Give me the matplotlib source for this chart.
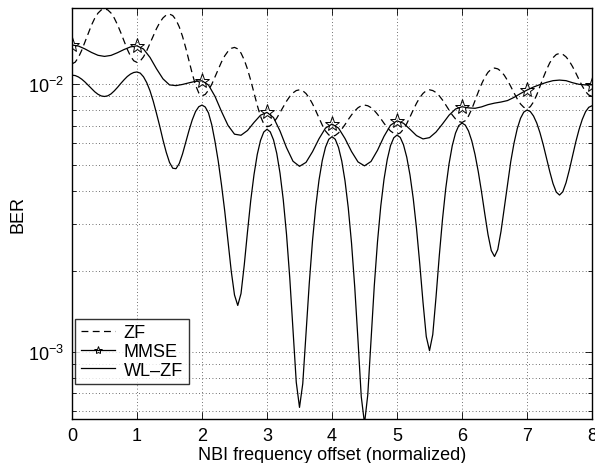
import numpy as np
import matplotlib
matplotlib.use('Agg')
import matplotlib.pyplot as plt
from matplotlib.ticker import FixedLocator, NullFormatter, LogFormatterSciNotation

# NBI frequency offset (normalized): ZF and WL-ZF read every 0.05, MMSE every 0.1
offset_fine = np.linspace(0, 8, 161)
offset_mmse = np.linspace(0, 8, 81)

ber_zf = [
    0.01190, 0.01208, 0.01259, 0.01338, 0.01439, 0.01550, 0.01661, 0.01762, 0.01841, 0.01892,
    0.01910, 0.01893, 0.01843, 0.01765, 0.01666, 0.01558, 0.01449, 0.01350, 0.01272, 0.01222,
    0.01205, 0.01220, 0.01264, 0.01333, 0.01420, 0.01516, 0.01611, 0.01698, 0.01767, 0.01811,
    0.01826, 0.01803, 0.01738, 0.01636, 0.01508, 0.01365, 0.01223, 0.01094, 0.00992, 0.00927,
    0.00904, 0.00915, 0.00949, 0.00998, 0.01065, 0.01138, 0.01210, 0.01275, 0.01326, 0.01360,
    0.01371, 0.01354, 0.01306, 0.01231, 0.01137, 0.01032, 0.00927, 0.00833, 0.00758, 0.00710,
    0.00693, 0.00699, 0.00718, 0.00746, 0.00783, 0.00823, 0.00863, 0.00899, 0.00927, 0.00946,
    0.00952, 0.00944, 0.00922, 0.00887, 0.00844, 0.00795, 0.00747, 0.00703, 0.00668, 0.00646,
    0.00638, 0.00643, 0.00657, 0.00679, 0.00706, 0.00737, 0.00767, 0.00794, 0.00816, 0.00830,
    0.00835, 0.00830, 0.00817, 0.00797, 0.00771, 0.00743, 0.00714, 0.00688, 0.00668, 0.00655,
    0.00650, 0.00657, 0.00679, 0.00712, 0.00754, 0.00801, 0.00848, 0.00890, 0.00923, 0.00945,
    0.00952, 0.00946, 0.00930, 0.00904, 0.00872, 0.00836, 0.00800, 0.00767, 0.00741, 0.00725,
    0.00719, 0.00730, 0.00760, 0.00807, 0.00867, 0.00934, 0.01000, 0.01060, 0.01107, 0.01137,
    0.01148, 0.01140, 0.01116, 0.01079, 0.01032, 0.00980, 0.00927, 0.00880, 0.00843, 0.00819,
    0.00811, 0.00823, 0.00858, 0.00912, 0.00981, 0.01057, 0.01132, 0.01201, 0.01255, 0.01290,
    0.01302, 0.01292, 0.01264, 0.01219, 0.01163, 0.01101, 0.01039, 0.00983, 0.00938, 0.00910,
    0.00900,
]

ber_mmse = [
    0.01400, 0.01387, 0.01353, 0.01313, 0.01281, 0.01269, 0.01280, 0.01310, 0.01346, 0.01377,
    0.01390, 0.01352, 0.01258, 0.01141, 0.01046, 0.00993, 0.00987, 0.00997, 0.01011, 0.01024,
    0.01029, 0.00992, 0.00900, 0.00790, 0.00701, 0.00650, 0.00644, 0.00671, 0.00719, 0.00765,
    0.00784, 0.00750, 0.00668, 0.00579, 0.00515, 0.00493, 0.00510, 0.00559, 0.00625, 0.00685,
    0.00709, 0.00685, 0.00626, 0.00560, 0.00512, 0.00495, 0.00514, 0.00566, 0.00638, 0.00702,
    0.00729, 0.00714, 0.00678, 0.00642, 0.00624, 0.00631, 0.00662, 0.00710, 0.00765, 0.00807,
    0.00823, 0.00815, 0.00812, 0.00822, 0.00838, 0.00849, 0.00857, 0.00868, 0.00892, 0.00922,
    0.00950, 0.00975, 0.00996, 0.01015, 0.01030, 0.01035, 0.01030, 0.01012, 0.00998, 0.00993,
    0.00994,
]

ber_wlzf = [
    0.01080, 0.01076, 0.01063, 0.01043, 0.01018, 0.00990, 0.00962, 0.00936, 0.00916, 0.00903,
    0.00899, 0.00904, 0.00919, 0.00943, 0.00972, 0.01005, 0.01037, 0.01067, 0.01090, 0.01105,
    0.01110, 0.01099, 0.01065, 0.01012, 0.00944, 0.00863, 0.00777, 0.00696, 0.00618, 0.00556,
    0.00510, 0.00485, 0.00483, 0.00505, 0.00548, 0.00606, 0.00671, 0.00735, 0.00789, 0.00823,
    0.00835, 0.00821, 0.00780, 0.00705, 0.00610, 0.00515, 0.00420, 0.00335, 0.00258, 0.00200,
    0.00163, 0.00149, 0.00165, 0.00211, 0.00281, 0.00368, 0.00459, 0.00546, 0.00616, 0.00662,
    0.00678, 0.00663, 0.00619, 0.00551, 0.00465, 0.00370, 0.00275, 0.00189, 0.00121, 0.00077,
    0.00062, 0.00076, 0.00117, 0.00180, 0.00260, 0.00349, 0.00438, 0.00518, 0.00581, 0.00622,
    0.00636, 0.00622, 0.00580, 0.00516, 0.00435, 0.00345, 0.00255, 0.00174, 0.00110, 0.00068,
    0.00054, 0.00069, 0.00110, 0.00176, 0.00258, 0.00350, 0.00441, 0.00523, 0.00589, 0.00630,
    0.00645, 0.00632, 0.00593, 0.00533, 0.00457, 0.00373, 0.00289, 0.00213, 0.00153, 0.00114,
    0.00101, 0.00116, 0.00160, 0.00228, 0.00313, 0.00408, 0.00503, 0.00589, 0.00656, 0.00700,
    0.00715, 0.00703, 0.00668, 0.00614, 0.00546, 0.00471, 0.00396, 0.00328, 0.00274, 0.00239,
    0.00227, 0.00241, 0.00282, 0.00345, 0.00425, 0.00514, 0.00602, 0.00682, 0.00745, 0.00786,
    0.00800, 0.00790, 0.00760, 0.00715, 0.00657, 0.00593, 0.00528, 0.00471, 0.00425, 0.00395,
    0.00385, 0.00396, 0.00428, 0.00477, 0.00539, 0.00608, 0.00676, 0.00738, 0.00788, 0.00819,
    0.00830,
]

series_labels = ['ZF', 'MMSE', 'WL\u2013ZF']
x_ticks = [0, 1, 2, 3, 4, 5, 6, 7, 8]

plt.rcParams['font.family'] = ['Liberation Sans', 'DejaVu Sans']
plt.rcParams['mathtext.fontset'] = 'custom'
plt.rcParams['mathtext.rm'] = 'Liberation Sans'
plt.rcParams['mathtext.it'] = 'Liberation Sans:italic'
plt.rcParams['mathtext.bf'] = 'Liberation Sans:bold'

fig = plt.figure(figsize=(5.95, 4.64), dpi=100)
ax = fig.add_axes([0.121, 0.0948, 0.874, 0.885])

ax.plot(offset_fine, ber_zf, color='k', lw=0.9, dashes=(5.5, 3.5), label=series_labels[0])
ax.plot(offset_mmse, ber_mmse, color='k', lw=0.9, marker='*', markevery=10, ms=11,
        mfc='none', mec='k', mew=0.7, label=series_labels[1])
ax.plot(offset_fine, ber_wlzf, color='k', lw=0.9, label=series_labels[2])

ax.set_yscale('log')
ax.set_xlim(0, 8)
ax.set_ylim(5.61e-4, 1.918e-2)

ax.xaxis.set_major_locator(FixedLocator(x_ticks))
ax.set_xticklabels([str(t) for t in x_ticks])
ax.yaxis.set_major_locator(FixedLocator([1e-3, 1e-2]))
ax.yaxis.set_major_formatter(LogFormatterSciNotation())
minor = [m * 10.0 ** e for e in (-4, -3, -2) for m in range(2, 10)]
ax.yaxis.set_minor_locator(FixedLocator(minor))
ax.yaxis.set_minor_formatter(NullFormatter())

ax.tick_params(which='both', direction='in', top=True, right=True, labelsize=13, width=0.6)
ax.tick_params(which='major', length=5, pad=6)
ax.tick_params(which='minor', length=3)

gkw = dict(color='0.25', linestyle=(0, (1, 3)), linewidth=0.6)
ax.grid(True, which='major', axis='x', **gkw)
ax.grid(True, which='both', axis='y', **gkw)

for s in ax.spines.values():
    s.set_linewidth(1.0)

ax.set_xlabel('NBI frequency offset (normalized)', fontsize=13, labelpad=1)
ax.set_ylabel('BER', fontsize=13, labelpad=1)

leg = ax.legend(loc='lower left', bbox_to_anchor=(0.006, 0.085), borderaxespad=0,
                fontsize=13, frameon=True, fancybox=False, edgecolor='k',
                handlelength=1.9, handletextpad=0.5, labelspacing=0.1, borderpad=0.3)
leg.get_frame().set_linewidth(1.0)
leg.legend_handles[1].set_markersize(6)

fig.savefig('out.png', dpi=100)
